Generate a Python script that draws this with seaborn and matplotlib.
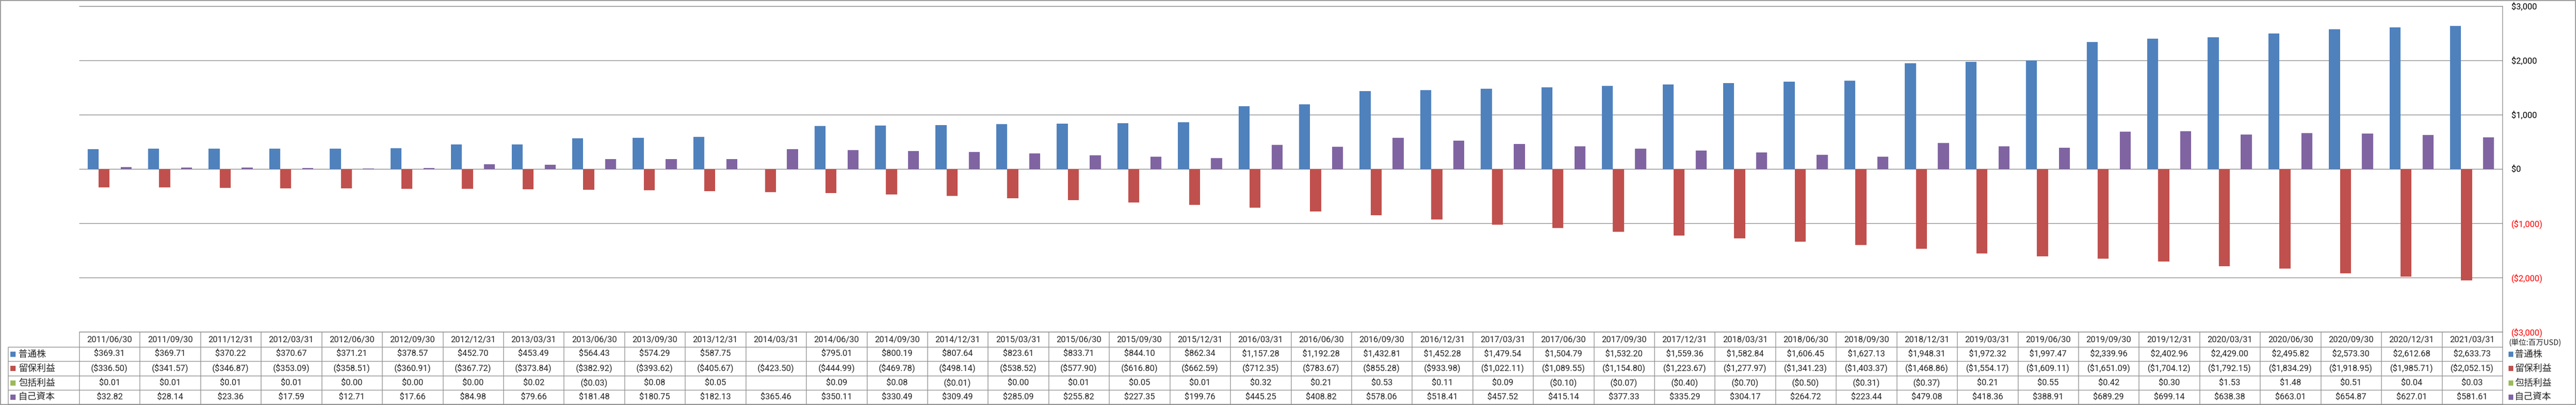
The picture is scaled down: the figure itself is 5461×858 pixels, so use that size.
import numpy as np
import pandas as pd
import matplotlib
matplotlib.use("Agg")
import matplotlib.pyplot as plt
import matplotlib.transforms as mtransforms
from matplotlib.patches import Rectangle
import seaborn as sns

# ---------------- data ----------------
dates = ["2011/06/30", "2011/09/30", "2011/12/31", "2012/03/31", "2012/06/30", "2012/09/30",
         "2012/12/31", "2013/03/31", "2013/06/30", "2013/09/30", "2013/12/31", "2014/03/31",
         "2014/06/30", "2014/09/30", "2014/12/31", "2015/03/31", "2015/06/30", "2015/09/30",
         "2015/12/31", "2016/03/31", "2016/06/30", "2016/09/30", "2016/12/31", "2017/03/31",
         "2017/06/30", "2017/09/30", "2017/12/31", "2018/03/31", "2018/06/30", "2018/09/30",
         "2018/12/31", "2019/03/31", "2019/06/30", "2019/09/30", "2019/12/31", "2020/03/31",
         "2020/06/30", "2020/09/30", "2020/12/31", "2021/03/31"]

common_stock = [369.31, 369.71, 370.22, 370.67, 371.21, 378.57, 452.70, 453.49, 564.43, 574.29,
                587.75, np.nan, 795.01, 800.19, 807.64, 823.61, 833.71, 844.10, 862.34, 1157.28,
                1192.28, 1432.81, 1452.28, 1479.54, 1504.79, 1532.20, 1559.36, 1582.84, 1606.45, 1627.13,
                1948.31, 1972.32, 1997.47, 2339.96, 2402.96, 2429.00, 2495.82, 2573.30, 2612.68, 2633.73]

retained_earnings = [-336.50, -341.57, -346.87, -353.09, -358.51, -360.91, -367.72, -373.84, -382.92, -393.62,
                     -405.67, -423.50, -444.99, -469.78, -498.14, -538.52, -577.90, -616.80, -662.59, -712.35,
                     -783.67, -855.28, -933.98, -1022.11, -1089.55, -1154.80, -1223.67, -1277.97, -1341.23, -1403.37,
                     -1468.86, -1554.17, -1609.11, -1651.09, -1704.12, -1792.15, -1834.29, -1918.95, -1985.71, -2052.15]

comprehensive_income = [0.01, 0.01, 0.01, 0.01, 0.00, 0.00, 0.00, 0.02, -0.03, 0.08,
                        0.05, np.nan, 0.09, 0.08, -0.01, 0.00, 0.01, 0.05, 0.01, 0.32,
                        0.21, 0.53, 0.11, 0.09, -0.10, -0.07, -0.40, -0.70, -0.50, -0.31,
                        -0.37, 0.21, 0.55, 0.42, 0.30, 1.53, 1.48, 0.51, 0.04, 0.03]

equity = [32.82, 28.14, 23.36, 17.59, 12.71, 17.66, 84.98, 79.66, 181.48, 180.75,
          182.13, 365.46, 350.11, 330.49, 309.49, 285.09, 255.82, 227.35, 199.76, 445.25,
          408.82, 578.06, 518.41, 457.52, 415.14, 377.33, 335.29, 304.17, 264.72, 223.44,
          479.08, 418.36, 388.91, 689.29, 699.14, 638.38, 663.01, 654.87, 627.01, 581.61]

series_names = ["普通株", "留保利益", "包括利益", "自己資本"]
series_colors = ["#4F81BD", "#C0504D", "#9BBB59", "#8064A2"]
y_ticks = [3000, 2000, 1000, 0, -1000, -2000, -3000]
unit_label = "(単位:百万USD)"

all_series = [common_stock, retained_earnings, comprehensive_income, equity]

rows = []
for name, vals in zip(series_names, all_series):
    for d, v in zip(dates, vals):
        rows.append({"date": d, "series": name, "value": v})
df = pd.DataFrame(rows)

# ---------------- figure ----------------
sns.set_theme(style="white")
plt.rcParams["font.family"] = ["Roboto", "Noto Sans CJK JP", "DejaVu Sans"]

W, H = 5461, 858
fig = plt.figure(figsize=(W / 100, H / 100), dpi=100)
fig.patch.set_facecolor("white")

L, R, T, B = 168, 5305, 13, 703
ax = fig.add_axes([L / W, 1 - B / H, (R - L) / W, (B - T) / H])

sns.barplot(data=df, x="date", y="value", hue="series", order=dates, hue_order=series_names,
            palette=series_colors, width=0.727, errorbar=None, legend=False, saturation=1,
            linewidth=0, ax=ax)

grid_col = "#868686"
ax.set_xlim(-0.5, len(dates) - 0.5)
ax.set_ylim(-3000, 3000)
ax.set_yticks(y_ticks)


def money(v, dec=0):
    if v is None or (isinstance(v, float) and np.isnan(v)):
        return ""
    s = f"${abs(v):,.{dec}f}"
    return f"({s})" if v < 0 else s


ax.set_yticklabels([money(v) for v in y_ticks])
ax.yaxis.tick_right()
ax.tick_params(axis="y", length=0, pad=13.7, labelsize=13)
for lab, v in zip(ax.get_yticklabels(), y_ticks):
    lab.set_color("#FF0000" if v < 0 else "black")
ax.tick_params(axis="x", bottom=False, labelbottom=False)
ax.set_xlabel("")
ax.set_ylabel("")
ax.grid(axis="y", color=grid_col, linewidth=1.0)
ax.grid(axis="x", visible=False)
ax.set_axisbelow(True)
for side in ["left"]:
    ax.spines[side].set_visible(False)
for side in ["top", "bottom", "right"]:
    ax.spines[side].set_visible(True)
    ax.spines[side].set_color(grid_col)
    ax.spines[side].set_linewidth(1.0)

# ---------------- data table ----------------
pxT = mtransforms.Affine2D().scale(1 / W, -1 / H).translate(0, 1) + fig.transFigure
bt = mtransforms.blended_transform_factory(ax.transData, pxT)

row_edges = [703, 735, 765, 796, 826, 856]
row_centers = [(a + b) / 2 for a, b in zip(row_edges[:-1], row_edges[1:])]
line_col = "#8C8C8C"
n = len(dates)

for y in row_edges[1:]:
    ax.plot([-0.5, n - 0.5], [y, y], transform=bt, clip_on=False, color=line_col, lw=1.0)
for i in range(n + 1):
    ax.plot([i - 0.5, i - 0.5], [row_edges[0], row_edges[-1]], transform=bt, clip_on=False,
            color=line_col, lw=1.0)

# left label column
for y in row_edges[1:]:
    fig.add_artist(plt.Line2D([17, L], [y, y], transform=pxT, color=line_col, lw=1.0))
fig.add_artist(plt.Line2D([17, 17], [row_edges[1], row_edges[-1]], transform=pxT, color=line_col, lw=1.0))

for i, d in enumerate(dates):
    ax.text(i, row_centers[0], d, transform=bt, ha="center", va="center", fontsize=13,
            family=["Roboto", "DejaVu Sans"], clip_on=False)

for r, vals in enumerate(all_series):
    yc = row_centers[r + 1]
    for i, v in enumerate(vals):
        ax.text(i, yc, money(v, 2), transform=bt, ha="center", va="center", fontsize=13,
                family=["Roboto", "DejaVu Sans"], clip_on=False)
    # left legend in table
    fig.add_artist(Rectangle((22, yc - 5.5), 11, 11, transform=pxT, color=series_colors[r], lw=0))
    fig.text(39, yc, series_names[r], transform=pxT, ha="left", va="center", fontsize=14,
             family=["Noto Sans CJK JP", "DejaVu Sans"])
    # right legend
    fig.add_artist(Rectangle((5318, yc - 5.5), 10, 11, transform=pxT, color=series_colors[r], lw=0))
    fig.text(5331, yc, series_names[r], transform=pxT, ha="left", va="center", fontsize=14,
             family=["Noto Sans CJK JP", "DejaVu Sans"])

fig.text(5318, 727, unit_label, transform=pxT, ha="left", va="center", fontsize=11.5,
         family=["Noto Sans CJK JP", "DejaVu Sans"])

# outer chart border
fig.add_artist(Rectangle((1, 1), W - 2, H - 2, transform=pxT, fill=False, ec=grid_col, lw=1.2))

fig.savefig("out.png", dpi=100, facecolor="white")
